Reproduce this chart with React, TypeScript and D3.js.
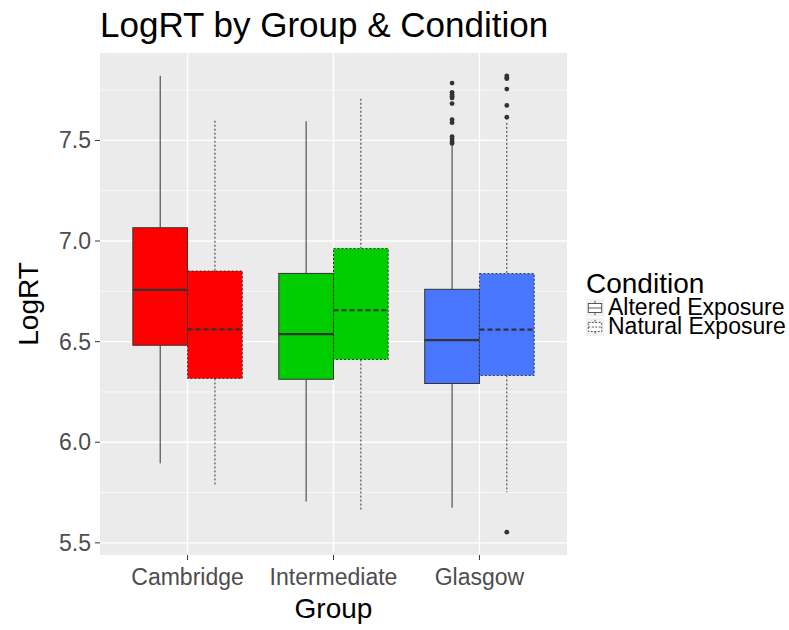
import React from "react";
import * as d3 from "d3";

const groups = ["Cambridge", "Intermediate", "Glasgow"];
const conditions = ["Altered Exposure", "Natural Exposure"];
const groupColors = ["#FF0000", "#00CD00", "#4876FF"];

// per group, per condition: [Altered, Natural]
const lowerWhisker = [[5.895, 5.784], [5.705, 5.665], [5.675, 5.751]];
const q1 = [[6.482, 6.317], [6.313, 6.411], [6.292, 6.332]];
const medians = [[6.757, 6.561], [6.537, 6.656], [6.507, 6.56]];
const q3 = [[7.066, 6.851], [6.839, 6.963], [6.76, 6.838]];
const upperWhisker = [[7.821, 7.598], [7.595, 7.707], [7.475, 7.587]];
const outliers = [
  [[], []],
  [[], []],
  [
    [7.785, 7.739, 7.728, 7.72, 7.711, 7.683, 7.603, 7.588, 7.519, 7.507, 7.495, 7.485],
    [7.821, 7.812, 7.807, 7.755, 7.674, 7.615, 5.553],
  ],
];
const yTicks = [5.5, 6.0, 6.5, 7.0, 7.5];
const yMinor = [5.75, 6.25, 6.75, 7.25, 7.75];

const W = 789, H = 630;
const pL = 100, pR = 567, pT = 53, pB = 555;
const FONT = "'Liberation Sans', Arial, Helvetica, sans-serif";

export default function App() {
  const allVals = [
    ...lowerWhisker.flat(), ...upperWhisker.flat(), ...outliers.flat(2),
  ] as number[];
  const lo = d3.min(allVals)!, hi = d3.max(allVals)!;
  const pad = (hi - lo) * 0.05;
  const y = d3.scaleLinear().domain([lo - pad, hi + pad]).range([pB, pT]);
  const x = d3.scaleBand<string>().domain(groups).range([pL, pR]).paddingInner(0.25).paddingOuter(0.225);
  const sub = d3.scaleBand<string>().domain(conditions).range([0, x.bandwidth()]);
  const bw = sub.bandwidth();
  const stroke = "#333333";

  return (
    <svg width={W} height={H} style={{ position: "absolute", left: 0, top: 0 }} fontFamily={FONT}>
      <rect x={0} y={0} width={W} height={H} fill="#fff" />
      <text x={100} y={37} fontSize={35} fill="#000">LogRT by Group &amp; Condition</text>
      <rect x={pL} y={pT} width={pR - pL} height={pB - pT} fill="#EBEBEB" />
      {yMinor.map((v) => (
        <line key={"m" + v} x1={pL} x2={pR} y1={y(v)} y2={y(v)} stroke="#fff" strokeWidth={0.7} />
      ))}
      {yTicks.map((v) => (
        <line key={"M" + v} x1={pL} x2={pR} y1={y(v)} y2={y(v)} stroke="#fff" strokeWidth={1.4} />
      ))}
      {groups.map((g) => {
        const cx = x(g)! + x.bandwidth() / 2;
        return <line key={"gx" + g} x1={cx} x2={cx} y1={pT} y2={pB} stroke="#fff" strokeWidth={1.4} />;
      })}
      {groups.map((g, gi) =>
        conditions.map((c, ci) => {
          const x0 = x(g)! + sub(c)!;
          const cx = x0 + bw / 2;
          const dash = ci === 1 ? "2,2" : undefined;
          return (
            <g key={g + c}>
              <line x1={cx} x2={cx} y1={y(upperWhisker[gi][ci])} y2={y(q3[gi][ci])} stroke={stroke} strokeWidth={1} strokeDasharray={dash} />
              <line x1={cx} x2={cx} y1={y(q1[gi][ci])} y2={y(lowerWhisker[gi][ci])} stroke={stroke} strokeWidth={1} strokeDasharray={dash} />
              <rect x={x0} y={y(q3[gi][ci])} width={bw} height={y(q1[gi][ci]) - y(q3[gi][ci])} fill={groupColors[gi]} stroke={stroke} strokeWidth={1} strokeDasharray={dash} />
              <line x1={x0} x2={x0 + bw} y1={y(medians[gi][ci])} y2={y(medians[gi][ci])} stroke={stroke} strokeWidth={2.2} strokeDasharray={ci === 1 ? "5,3" : undefined} />
              {(outliers[gi][ci] as number[]).map((v, k) => (
                <circle key={k} cx={cx} cy={y(v)} r={2.4} fill={stroke} />
              ))}
            </g>
          );
        })
      )}
      {/* y axis */}
      {yTicks.map((v) => (
        <g key={"yt" + v}>
          <line x1={pL - 5} x2={pL} y1={y(v)} y2={y(v)} stroke={stroke} strokeWidth={1} />
          <text x={pL - 9} y={y(v) + 8} fontSize={23} fill="#4D4D4D" textAnchor="end">{v.toFixed(1)}</text>
        </g>
      ))}
      {groups.map((g) => {
        const cx = x(g)! + x.bandwidth() / 2;
        return (
          <g key={"xt" + g}>
            <line x1={cx} x2={cx} y1={pB} y2={pB + 5} stroke={stroke} strokeWidth={1} />
            <text x={cx} y={585} fontSize={23} fill="#4D4D4D" textAnchor="middle">{g}</text>
          </g>
        );
      })}
      <text x={(pL + pR) / 2} y={618} fontSize={28} fill="#000" textAnchor="middle">Group</text>
      <text transform={`translate(38,${(pT + pB) / 2}) rotate(-90)`} fontSize={28} fill="#000" textAnchor="middle">LogRT</text>
      {/* legend */}
      <text x={586} y={293} fontSize={28} fill="#000">Condition</text>
      {conditions.map((c, ci) => {
        const ky = 299 + ci * 19;
        const kx = 586;
        const ks = 18;
        const dash = ci === 1 ? "2,1.5" : undefined;
        return (
          <g key={"lg" + c}>
            <rect x={kx} y={ky} width={ks} height={ks} fill="#F2F2F2" />
            <line x1={kx + ks / 2} x2={kx + ks / 2} y1={ky + ks * 0.1} y2={ky + ks * 0.25} stroke={stroke} strokeWidth={0.8} strokeDasharray={dash} />
            <line x1={kx + ks / 2} x2={kx + ks / 2} y1={ky + ks * 0.75} y2={ky + ks * 0.9} stroke={stroke} strokeWidth={0.8} strokeDasharray={dash} />
            <rect x={kx + ks * 0.125} y={ky + ks * 0.25} width={ks * 0.75} height={ks * 0.5} fill="#fff" stroke={stroke} strokeWidth={0.8} strokeDasharray={dash} />
            <line x1={kx + ks * 0.125} x2={kx + ks * 0.875} y1={ky + ks / 2} y2={ky + ks / 2} stroke={stroke} strokeWidth={0.8} strokeDasharray={dash} />
            <text x={608} y={ky + 16} fontSize={23} fill="#000">{c}</text>
          </g>
        );
      })}
    </svg>
  );
}
